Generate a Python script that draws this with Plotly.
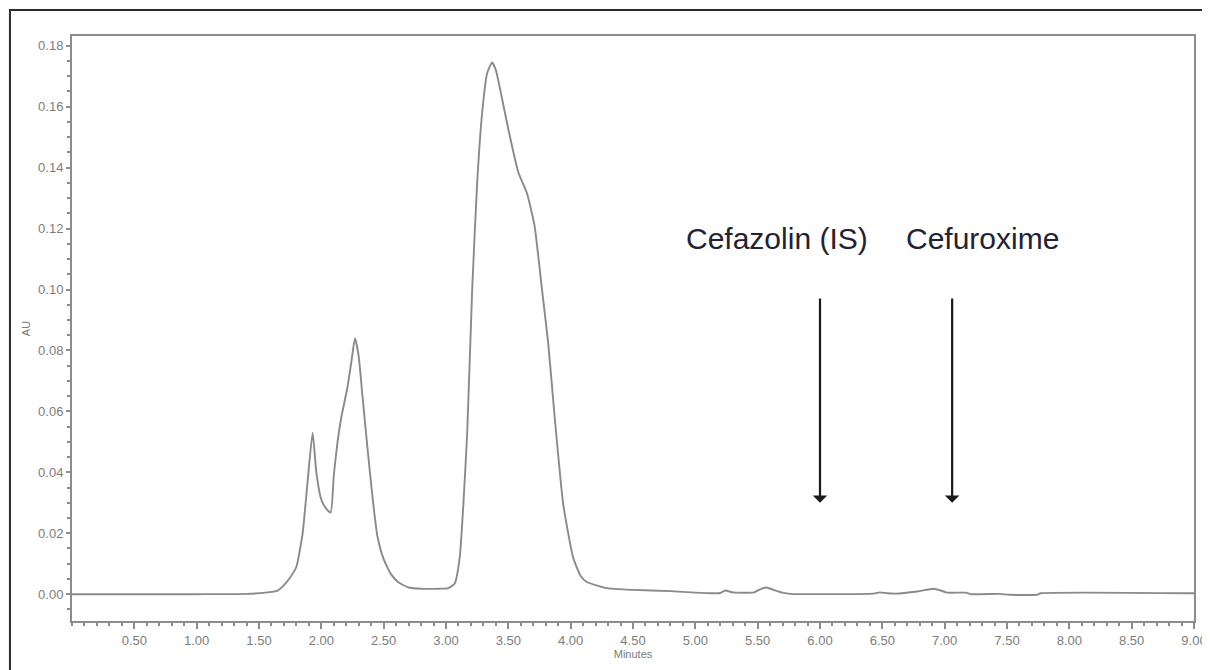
import plotly.graph_objects as go

# Chromatogram trace (minutes, AU)
minutes = [0.00, 0.50, 1.00, 1.40, 1.55, 1.65, 1.70, 1.75, 1.80, 1.85, 1.89, 1.93, 1.96, 2.00,
           2.04, 2.075, 2.10, 2.13, 2.16, 2.21, 2.24, 2.27, 2.30, 2.33, 2.37, 2.41, 2.45, 2.50,
           2.56, 2.62, 2.70, 2.80, 2.95, 3.02, 3.07, 3.11, 3.14, 3.17, 3.21, 3.25, 3.29, 3.33,
           3.37, 3.40, 3.43, 3.50, 3.58, 3.65, 3.71, 3.77, 3.82, 3.87, 3.94, 4.02, 4.08, 4.13,
           4.29, 4.50, 4.80, 5.00, 5.14, 5.20, 5.24, 5.30, 5.47, 5.52, 5.57, 5.63, 5.70, 5.76,
           6.43, 6.48, 6.54, 6.60, 6.78, 6.91, 6.97, 7.02, 7.17, 7.21, 7.44, 7.52, 7.74, 7.77,
           9.00]
au = [0.0000, 0.0000, 0.0000, 0.0001, 0.0005, 0.0012, 0.0030, 0.0055, 0.0090, 0.0200, 0.0370,
      0.0530, 0.0400, 0.0310, 0.0280, 0.0268, 0.0390, 0.0500, 0.0580, 0.0680, 0.0760, 0.0840,
      0.0780, 0.0650, 0.0480, 0.0320, 0.0190, 0.0115, 0.0065, 0.0038, 0.0022, 0.0018, 0.0018,
      0.0020, 0.0035, 0.0120, 0.0300, 0.0530, 0.1000, 0.1350, 0.1580, 0.1710, 0.1745, 0.1720,
      0.1666, 0.1526, 0.1385, 0.1315, 0.1210, 0.1000, 0.0823, 0.0589, 0.0296, 0.0120, 0.0060,
      0.0040, 0.0020, 0.0014, 0.0010, 0.0005, 0.0003, 0.0004, 0.0012, 0.0006, 0.0006, 0.0016,
      0.0022, 0.0014, 0.0005, 0.0001, 0.0002, 0.0006, 0.0003, 0.0002, 0.0009, 0.0018, 0.0012,
      0.0005, 0.0005, 0.0000, 0.0001, -0.0002, -0.0002, 0.0003, 0.0003]

x_tickvals = [0.5, 1.0, 1.5, 2.0, 2.5, 3.0, 3.5, 4.0, 4.5, 5.0, 5.5, 6.0, 6.5, 7.0, 7.5, 8.0, 8.5, 9.0]
x_ticktext = ["0.50", "1.00", "1.50", "2.00", "2.50", "3.00", "3.50", "4.00", "4.50", "5.00",
              "5.50", "6.00", "6.50", "7.00", "7.50", "8.00", "8.50", "9.00"]
y_tickvals = [0.00, 0.02, 0.04, 0.06, 0.08, 0.10, 0.12, 0.14, 0.16, 0.18]
y_ticktext = ["0.00", "0.02", "0.04", "0.06", "0.08", "0.10", "0.12", "0.14", "0.16", "0.18"]

# Peak labels and arrows
labels = ["Cefazolin (IS)", "Cefuroxime"]
label_x = [5.655, 7.30]
label_y = [0.1166, 0.1166]
arrow_x = [6.00, 7.06]
arrow_tail_y = [0.0975, 0.0975]
arrow_head_y = [0.0300, 0.0300]

axis_grey = "#8c8c8c"
FONT = "Liberation Sans, Arial, sans-serif"
tick_font = dict(family=FONT, size=13, color="#7d7d7d")

fig = go.Figure()
fig.add_trace(go.Scatter(
    x=minutes, y=au, mode="lines",
    line=dict(color="#8a8a8a", width=1.9, shape="spline", smoothing=0.5),
    hoverinfo="x+y", showlegend=False,
))

annotations = []
for t, lx, ly in zip(labels, label_x, label_y):
    annotations.append(dict(
        x=lx, y=ly, xref="x", yref="y", text=t, showarrow=False,
        font=dict(family=FONT, size=30, color="#222233"),
        xanchor="center", yanchor="middle",
    ))
for ax_, ty, hy in zip(arrow_x, arrow_tail_y, arrow_head_y):
    annotations.append(dict(
        x=ax_, y=hy, ax=ax_, ay=ty, xref="x", yref="y", axref="x", ayref="y",
        text="", showarrow=True, arrowhead=1, arrowsize=1.1, arrowwidth=2.2,
        arrowcolor="#1a1a1a",
    ))

# The page body adds an 8px offset, so the figure is 8px smaller and margins shifted.
fig.update_layout(
    width=1202, height=662,
    margin=dict(l=64, r=16, t=28, b=49, autoexpand=False),
    paper_bgcolor="white", plot_bgcolor="white",
    annotations=annotations,
    shapes=[dict(type="rect", xref="paper", yref="paper",
                 x0=-0.0553, x1=1.2, y0=-0.5, y1=1.0444,
                 line=dict(color="#2a2a2a", width=2), layer="above")],
    xaxis=dict(
        range=[0, 9], tickmode="array", tickvals=x_tickvals, ticktext=x_ticktext,
        automargin=False,
        showgrid=False, zeroline=False, showline=True, linecolor=axis_grey, linewidth=2,
        mirror=True, ticks="outside", ticklen=6, tickwidth=1.5, tickcolor=axis_grey,
        tickfont=tick_font,
        minor=dict(ticks="outside", ticklen=3, tickwidth=1.5, tickcolor=axis_grey,
                   dtick=0.1, tick0=0, showgrid=False),
        title=dict(text="Minutes", font=dict(family=FONT, size=11, color="#7a7a7a"), standoff=4),
    ),
    yaxis=dict(
        range=[-0.0088, 0.1832], tickmode="array", tickvals=y_tickvals, ticktext=y_ticktext,
        automargin=False,
        showgrid=False, zeroline=False, showline=True, linecolor=axis_grey, linewidth=2,
        mirror=True, ticks="outside", ticklen=4, tickwidth=1.5, tickcolor=axis_grey,
        tickfont=tick_font,
        minor=dict(ticks="outside", ticklen=3, tickwidth=1.5, tickcolor=axis_grey,
                   dtick=0.005, tick0=0, showgrid=False),
        title=dict(text="AU", font=dict(family=FONT, size=11, color="#7a7a7a"), standoff=5),
    ),
)

fig.write_html("out.html")
